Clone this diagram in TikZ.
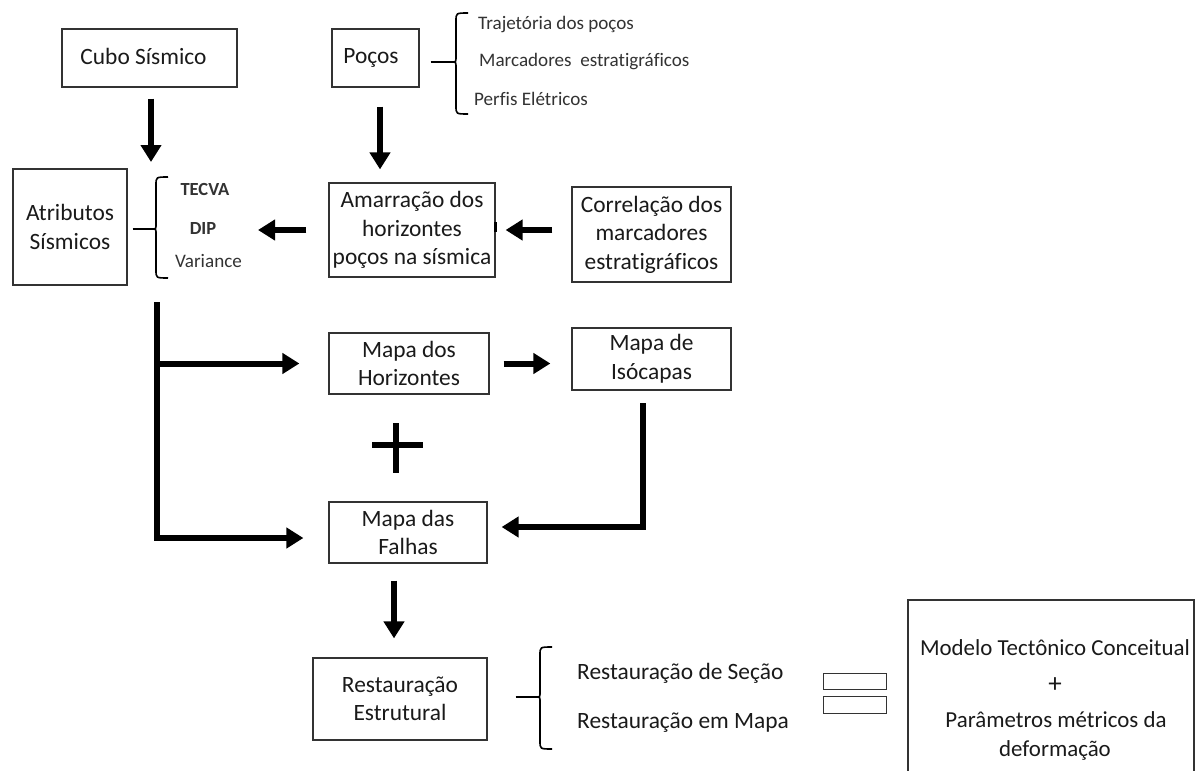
\documentclass[tikz,border=0pt]{standalone}
\usepackage{fontspec}
\setmainfont{Carlito}[Ligatures=NoCommon]
\usetikzlibrary{arrows.meta,calc}
\definecolor{ink}{HTML}{1A1A1A}
\definecolor{soft}{HTML}{333333}
\definecolor{edge}{HTML}{333333}
\newcommand\drawbrace[6]{%
  \draw[bracestyle] (#6,#4) .. controls (#3,#4) .. (#3,#4+8) -- (#3,#2-6)
    .. controls (#3,#2) .. (#1,#2) .. controls (#3,#2) .. (#3,#2+6)
    -- (#3,#5-8) .. controls (#3,#5) .. (#6,#5);}
\begin{document}
\begin{tikzpicture}[x=1pt,y=-1pt,
  box/.style={draw=edge,line width=1.2pt,text=ink,align=center,inner sep=0pt,
    font=\fontsize{23.4}{28.5}\selectfont},
  mainfont/.style={text=ink,inner sep=0pt,font=\fontsize{23.4}{28.5}\selectfont},
  modfont/.style={text=ink,inner sep=0pt,font=\fontsize{22.9}{28}\selectfont},
  smallfont/.style={text=soft,inner sep=0pt,font=\fontsize{19.1}{22}\selectfont},
  arr/.style={line width=6pt,-{Triangle[width=20pt,length=17pt]},draw=black},
  trunk/.style={line width=6pt,draw=black},
  thinlink/.style={line width=1.6pt,draw=black},
  bracestyle/.style={line width=1.6pt,draw=black},
  eqbox/.style={draw=edge,line width=1pt,inner sep=0pt}]
\useasboundingbox[fill=white] (0,0) rectangle (1200,771);

% boxes
\node[box,minimum width=175pt,minimum height=58pt] (cubo) at (149.5,58) {\hspace*{-12pt}Cubo Sísmico\vphantom{g}};
\node[box,minimum width=87pt,minimum height=58pt] (pocos) at (375.5,58) {\hspace*{-9pt}Poços};
\node[box,minimum width=114pt,minimum height=116pt] (atr) at (70,227) {Atributos\\Sísmicos};
\node[box,minimum width=166pt,minimum height=94pt] (amar) at (412,230) {Amarração dos\\horizontes\\poços na sísmica};
\node[box,minimum width=159pt,minimum height=95pt] (corr) at (651.5,234.5) {Correlação dos\\marcadores\\estratigráficos};
\node[box,minimum width=160pt,minimum height=61pt] (horiz) at (409,363.5) {Mapa dos\\Horizontes};
\node[box,minimum width=159pt,minimum height=62pt] (iso) at (651.5,359) {Mapa de\\Isócapas};
\node[box,minimum width=158pt,minimum height=61pt] (falhas) at (408,532.5) {Mapa das\\Falhas};
\node[box,minimum width=174pt,minimum height=82pt] (rest) at (400,699) {Restauração\\Estrutural};

% Poços list
\coordinate (pbr) at (452,62);
\drawbrace{452}{62}{456}{13}{114}{468}
\draw[thinlink] ([xshift=11pt]pocos.east |- pbr) -- (pbr);
\node[smallfont,anchor=west] (traj) at (478,25) {Trajetória dos poços};
\node[smallfont,anchor=west] (marc) at (479,62) {Marcadores\ \ estratigráficos};
\node[smallfont,anchor=west] (perf) at (474,99) {Perfis Elétricos};

% Atributos list
\coordinate (abr) at (153,229);
\drawbrace{153}{229}{156}{177}{278}{168}
\draw[thinlink] ([xshift=5pt]atr.east |- abr) -- (abr);
\node[smallfont,font=\fontsize{18.5}{22}\selectfont\bfseries] (tecva) at (205,189) {TECVA};
\node[smallfont,font=\fontsize{18.5}{22}\selectfont\bfseries] (dip) at (203,228) {DIP};
\node[smallfont] (var) at (208.5,261) {Variance};

% arrows top
\coordinate (atrtop) at (151,177);
\draw[arr,shorten <=11pt,shorten >=15pt] ([xshift=1.5pt]cubo.south) -- (atrtop);
\draw[arr,shorten <=19pt,shorten >=13pt] ([xshift=4.5pt]pocos.south) -- ([xshift=4.5pt]pocos.south |- amar.north);
\coordinate (atrlist) at (258,230);
\draw[arr,shorten <=22pt] (amar.west) -- (atrlist);
\draw[arr,shorten <=19pt,shorten >=10pt] (corr.west |- amar.east) -- (amar.east);
\draw[line width=2.5pt] ([yshift=8pt]amar.east) -- ([yshift=-2pt]amar.east);

% trunk
\coordinate (trunktop) at (157,302);
\coordinate (trunkbot) at (157,538);
\draw[trunk] (trunktop) -- (trunkbot);
\draw[arr,shorten >=25pt] ([xshift=-3pt]trunkbot) -- (falhas.west |- trunkbot);
\draw[arr,shorten >=29pt] (trunktop |- horiz.west) -- (horiz.west);
\draw[arr,shorten <=14pt,shorten >=21pt] (horiz.east) -- (iso.west |- horiz.east);

% isocapas to falhas
\coordinate (isoout) at (643,403);
\coordinate (isocorner) at (643,527);
\draw[arr,shorten >=14pt] (isoout) -- (isocorner) -- (falhas.east |- isocorner);

% plus
\draw[line width=5.5pt] (372,445) -- (423,445);
\draw[line width=5.5pt] (396,423) -- (396,473);

% falhas to restauracao
\draw[arr,shorten <=17pt,shorten >=19pt] ([xshift=-6pt]falhas.south -| rest.north) -- ([xshift=-6pt]rest.north);

% restauracao list
\coordinate (rbr) at (537,697);
\drawbrace{537}{697}{540}{647}{749}{552}
\draw[thinlink] ([xshift=28pt]rest.east |- rbr) -- (rbr);
\node[mainfont,anchor=west] (rsec) at (577,673) {Restauração de Seção};
\node[mainfont,anchor=west] (rmap) at (577,723) {Restauração em Mapa};

% equals
\node[eqbox,minimum width=63pt,minimum height=16pt] (eqa) at (854.5,681) {};
\node[eqbox,minimum width=63pt,minimum height=17pt] (eqb) at (854.5,704.5) {};

% modelo box
\draw[draw=edge,line width=1.2pt] (908,773) -- (908,600) -- (1194,600) -- (1194,773);
\node[modfont] (mod1) at (1055,648) {Modelo Tectônico Conceitual};
\node[modfont,font=\fontsize{27}{30}\selectfont] (mod2) at (1055,685) {+};
\node[modfont] (mod3) at (1056,720) {Parâmetros métricos da};
\node[modfont] (mod4) at (1055,750) {deformação};
\end{tikzpicture}
\end{document}
